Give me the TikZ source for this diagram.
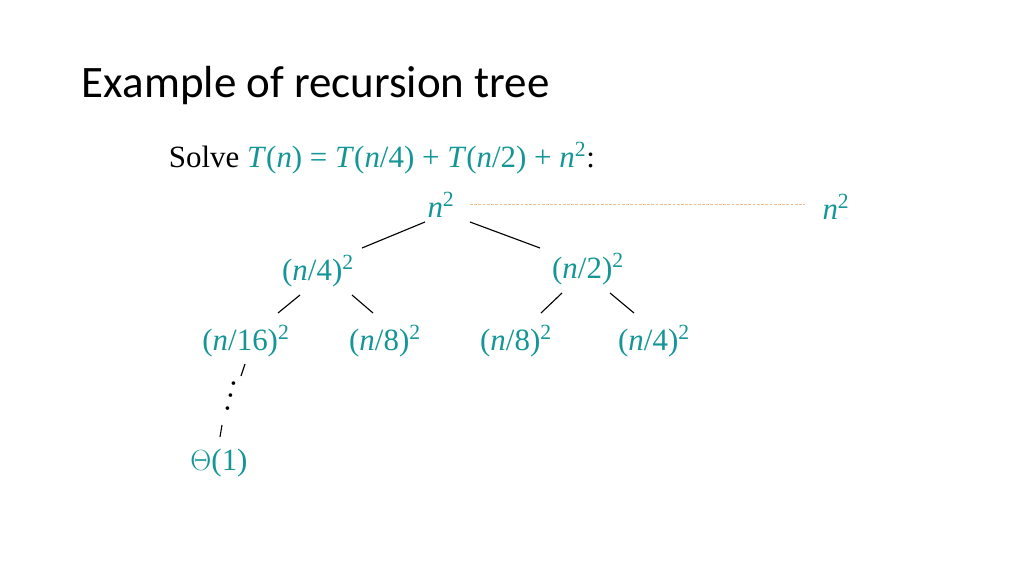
\documentclass[tikz,border=0pt]{standalone}
\usepackage{fontspec}
\setmainfont{Liberation Serif}
\newfontfamily\titlefont{Carlito}
\usetikzlibrary{positioning}
\definecolor{teal}{RGB}{20,150,150}
\definecolor{guide}{RGB}{240,190,140}
\tikzset{
    termsty/.style={text=teal,font=\fontsize{22}{26}\selectfont,inner sep=1pt},
    edgesty/.style={line width=0.8pt},
}
\begin{document}
\begin{tikzpicture}[x=0.025cm,y=-0.025cm]
  \useasboundingbox (0,0) rectangle (1024,576);
  \node[anchor=west,font=\titlefont\fontsize{32}{36}\selectfont] (title) at (77,86) {Example of recursion tree};
  \node[anchor=west,font=\fontsize{22}{26}\selectfont] (solve) at (164,158)
    {Solve \textcolor{teal}{\textit{T}(\textit{n}) = \textit{T}(\textit{n}/4) + \textit{T}(\textit{n}/2) + \textit{n}\textsuperscript{2}}:};
  % tree
  \node[termsty] (root) at (441,205) {\textit{n}\textsuperscript{2}};
  \node[termsty] (sum) at (836,207) {\textit{n}\textsuperscript{2}};
  \node[termsty] (l) at (318,271) {(\textit{n}/4)\textsuperscript{2}};
  \node[termsty] (r) at (588,269) {(\textit{n}/2)\textsuperscript{2}};
  \node[termsty] (ll) at (246,341) {(\textit{n}/16)\textsuperscript{2}};
  \node[termsty] (lr) at (385,341) {(\textit{n}/8)\textsuperscript{2}};
  \node[termsty] (rl) at (516,341) {(\textit{n}/8)\textsuperscript{2}};
  \node[termsty] (rr) at (654,341) {(\textit{n}/4)\textsuperscript{2}};
  \node[termsty,text=black,rotate=-104,inner sep=0pt] (dots) at (231,396) {.\,.\,.};
  \node[termsty] (leaf) at (219,463) {$\Theta$(1)};
  % edges
  \draw[edgesty] ([shift={(-16,17)}]root.center) -- ([shift={(44,-23)}]l.center);
  \draw[edgesty] ([shift={(29,17)}]root.center) -- ([shift={(-48,-21)}]r.center);
  \draw[edgesty] ([shift={(-18,24)}]l.center) -- ([shift={(32,-28)}]ll.center);
  \draw[edgesty] ([shift={(34,24)}]l.center) -- ([shift={(-12,-28)}]lr.center);
  \draw[edgesty] ([shift={(-26,24)}]r.center) -- ([shift={(25,-28)}]rl.center);
  \draw[edgesty] ([shift={(22,24)}]r.center) -- ([shift={(-20,-28)}]rr.center);
  \draw[edgesty] ([shift={(-1,23)}]ll.center) -- ([shift={(10,-20)}]dots.center);
  \draw[edgesty] ([shift={(-9,29)}]dots.center) -- ([shift={(1,-26)}]leaf.center);
  \draw[guide,dashed,dash pattern=on 2pt off 1pt,line width=0.5pt] ([shift={(29,-1)}]root.center) -- ([shift={(-31,-3)}]sum.center);
\end{tikzpicture}
\end{document}
